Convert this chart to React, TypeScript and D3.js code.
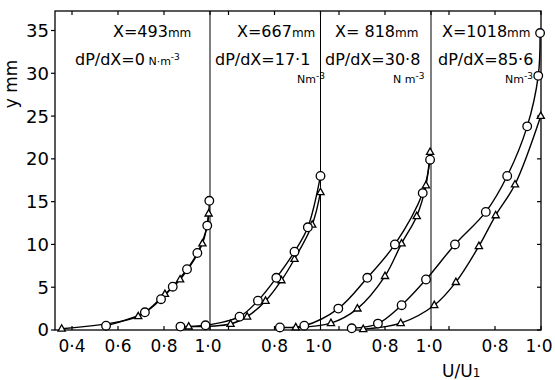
import React from "react";
import * as d3 from "d3";

// ---- data: [U/U1, y mm] ----
const p1Circles: [number, number][] = [[0.548, 0.5], [0.717, 2.07], [0.787, 3.6], [0.838, 5.06], [0.9, 7.1], [0.945, 9.0], [0.988, 12.2], [0.997, 15.1]];
const p1Triangles: [number, number][] = [[0.355, 0.15], [0.688, 1.6], [0.804, 4.2], [0.87, 5.9], [0.967, 10.1], [0.994, 13.6]];
const p2Circles: [number, number][] = [[0.391, 0.4], [0.5, 0.55], [0.648, 1.56], [0.728, 3.43], [0.808, 6.1], [0.887, 9.15], [0.945, 12.0], [1.0, 18.0]];
const p2Triangles: [number, number][] = [[0.427, 0.4], [0.609, 0.7], [0.681, 1.56], [0.761, 3.4], [0.83, 5.8], [0.887, 8.3], [0.964, 12.3], [1.0, 16.1]];
const p3Circles: [number, number][] = [[0.343, 0.3], [0.449, 0.5], [0.597, 2.5], [0.723, 6.1], [0.843, 10.0], [0.964, 16.0], [0.996, 19.9]];
const p3Triangles: [number, number][] = [[0.412, 0.3], [0.565, 0.8], [0.68, 2.5], [0.8, 6.3], [0.872, 10.1], [0.938, 13.3], [0.978, 16.9], [0.996, 20.8]];
const p4Circles: [number, number][] = [[0.177, 0.2], [0.291, 0.75], [0.394, 2.9], [0.5, 5.9], [0.626, 10.0], [0.76, 13.8], [0.853, 18.0], [0.94, 23.8], [0.988, 29.7], [0.996, 34.7]];
const p4Triangles: [number, number][] = [[0.227, 0.1], [0.39, 0.8], [0.536, 2.9], [0.63, 5.6], [0.73, 9.8], [0.803, 13.4], [0.887, 17.0], [0.999, 25.0]];

const panelCircles = [p1Circles, p2Circles, p3Circles, p4Circles];
const panelTriangles = [p1Triangles, p2Triangles, p3Triangles, p4Triangles];

const stationLabels = ["X=493", "X=667", "X= 818", "X=1018"];
const gradientLabels = ["dP/dX=0", "dP/dX=17·1", "dP/dX=30·8", "dP/dX=85·6"];
const unitLabels = [" N·m", "Nm", "N m", "Nm"];

const yTicks = [0, 5, 10, 15, 20, 25, 30, 35];
const panelTickValues = [[0.4, 0.6, 0.8, 1.0], [0.6, 0.8, 1.0], [0.6, 0.8, 1.0], [0.6, 0.8, 1.0]];
const panelTickLabels = [["0·4", "0·6", "0·8", "1·0"], ["0·8", "1·0"], ["0·8", "1·0"], ["0·8", "1·0"]];
const panelLabelValues = [[0.4, 0.6, 0.8, 1.0], [0.8, 1.0], [0.8, 1.0], [0.8, 1.0]];

// ---- layout ----
const W = 555, H = 380;
const left = 55, right = 541, top = 11, bottom = 330;
const dividers = [210, 320.5, 431, 541];
const pxPerUnit = 230;
const font = "DejaVu Sans, sans-serif";

const y = d3.scaleLinear().domain([0, 35]).range([bottom, 30.5]);
const xs = dividers.map((d) => d3.scaleLinear().domain([0, 1]).range([d - pxPerUnit, d]));

const stationPos = [[113, 37], [237, 37], [335, 37], [442, 37]];
const gradPos = [[75, 65], [215, 65], [325, 65], [438, 65]];
const unitPos = [[null, null], [297, 83], [393, 83], [505, 83]];

export default function App() {
  const lineGen = (xScale: d3.ScaleLinear<number, number>) =>
    d3
      .line<[number, number]>()
      .x((d) => xScale(d[0]))
      .y((d) => y(d[1]))
      .curve(d3.curveCatmullRom.alpha(0.5));

  const tri = (cx: number, cy: number) => {
    const s = 4;
    return `M${cx},${cy - s}L${cx + s * 0.9},${cy + s * 0.6}L${cx - s * 0.9},${cy + s * 0.6}Z`;
  };

  return (
    <svg width={W} height={H} style={{ position: "absolute", left: 0, top: 0, background: "#fff" }} fontFamily={font}>
      {/* frame */}
      <rect x={left} y={top} width={right - left} height={bottom - top} fill="none" stroke="#000" strokeWidth={1.3} />
      {dividers.slice(0, 3).map((d, i) => (
        <line key={i} x1={d} x2={d} y1={top} y2={bottom} stroke="#000" strokeWidth={1} />
      ))}
      {/* y ticks */}
      {yTicks.map((t) => (
        <g key={t}>
          <line x1={left - 4} x2={left} y1={y(t)} y2={y(t)} stroke="#000" strokeWidth={1.2} />
          <line x1={right - 4} x2={right} y1={y(t)} y2={y(t)} stroke="#000" strokeWidth={1.2} />
          <text x={left - 6} y={y(t)} dy="0.36em" textAnchor="end" fontSize={18}>
            {t}
          </text>
        </g>
      ))}
      <text transform={`translate(17,84) rotate(-90)`} textAnchor="middle" fontSize={17}>
        y mm
      </text>
      {/* x ticks */}
      {xs.map((xs_, i) => (
        <g key={i}>
          {panelTickValues[i].map((v) => (
            <g key={v}>
              <line x1={xs_(v)} x2={xs_(v)} y1={bottom} y2={bottom - 4} stroke="#000" strokeWidth={1.2} />
              <line x1={xs_(v)} x2={xs_(v)} y1={top} y2={top + 4} stroke="#000" strokeWidth={1.2} />
            </g>
          ))}
          {panelLabelValues[i].map((v, j) => (
            <text key={v} x={xs_(v) - (v === 1 ? 2 : 0)} y={352} textAnchor="middle" fontSize={17}>
              {panelTickLabels[i][j]}
            </text>
          ))}
        </g>
      ))}
      <text x={442} y={377} fontSize={17}>
        U/U<tspan fontSize={12}>1</tspan>
      </text>
      {/* curves */}
      {xs.map((xs_, i) => (
        <g key={i} fill="none" stroke="#000" strokeWidth={1.4}>
          <path d={lineGen(xs_)(panelCircles[i]) || ""} />
          <path d={lineGen(xs_)(panelTriangles[i]) || ""} />
        </g>
      ))}
      {/* markers */}
      {xs.map((xs_, i) => (
        <g key={i} fill="#fff" stroke="#000" strokeWidth={1.3}>
          {panelTriangles[i].map((d, j) => (
            <path key={"t" + j} d={tri(xs_(d[0]), y(d[1]))} />
          ))}
          {panelCircles[i].map((d, j) => (
            <circle key={"c" + j} cx={xs_(d[0])} cy={y(d[1])} r={4.3} />
          ))}
        </g>
      ))}
      {/* annotations */}
      {stationLabels.map((s, i) => (
        <text key={i} x={stationPos[i][0]} y={stationPos[i][1]} fontSize={16}>
          {s}
          <tspan fontSize={12}>mm</tspan>
        </text>
      ))}
      {gradientLabels.map((s, i) => (
        <text key={i} x={gradPos[i][0]} y={gradPos[i][1]} fontSize={16}>
          {s}
          {i === 0 && (
            <>
              <tspan fontSize={11}>{unitLabels[0]}</tspan>
              <tspan fontSize={9} dy={-5}>-3</tspan>
            </>
          )}
        </text>
      ))}
      {unitLabels.map((u, i) =>
        i === 0 ? null : (
          <text key={i} x={unitPos[i][0] as number} y={unitPos[i][1] as number} fontSize={11}>
            {u}
            <tspan fontSize={9} dy={-4}>-3</tspan>
          </text>
        )
      )}
    </svg>
  );
}
